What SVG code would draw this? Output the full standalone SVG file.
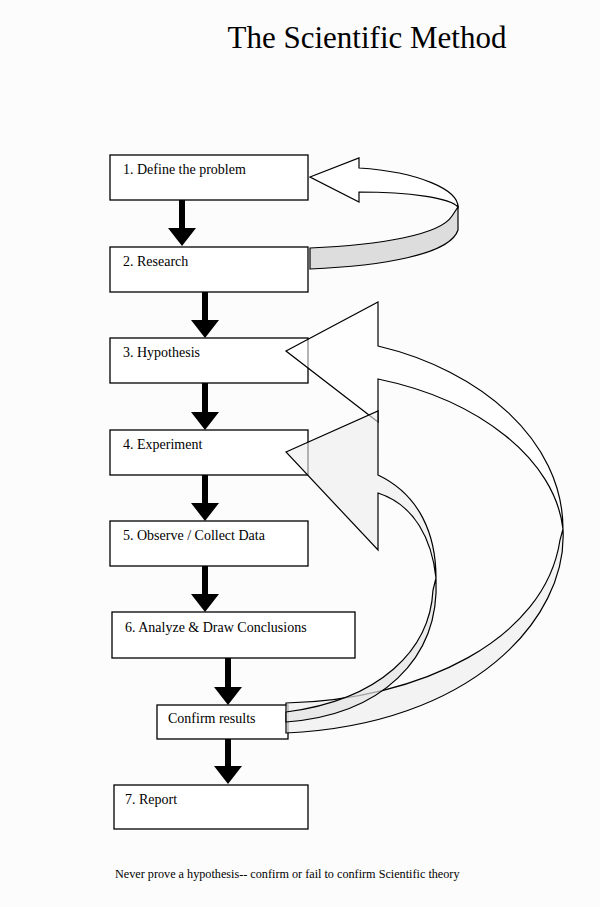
<svg xmlns="http://www.w3.org/2000/svg" width="600" height="907" viewBox="0 0 600 907">
<style>
.box{fill:#fff;stroke:#000;stroke-width:1.3}
.t{font-family:"Liberation Serif",serif;font-size:14px;fill:#000}
.ar{fill:#000}
.rib{stroke:#000;stroke-width:1.2;stroke-linejoin:miter}
</style>
<rect width="600" height="907" fill="#fcfcfc"/>
<text x="367" y="48" text-anchor="middle" font-family="Liberation Serif,serif" font-size="31">The Scientific Method</text>
<g id="n1"><rect class="box" x="110" y="155" width="198" height="45"/><text class="t" x="123" y="174">1. Define the problem</text></g>
<g id="n2"><rect class="box" x="110" y="247" width="198" height="45"/><text class="t" x="123" y="266">2. Research</text></g>
<g id="n3"><rect class="box" x="110" y="338" width="198" height="45"/><text class="t" x="123" y="357">3. Hypothesis</text></g>
<g id="n4"><rect class="box" x="110" y="430" width="198" height="45"/><text class="t" x="123" y="449">4. Experiment</text></g>
<g id="n5"><rect class="box" x="110" y="521" width="198" height="45"/><text class="t" x="123" y="540">5. Observe / Collect Data</text></g>
<g id="n6"><rect class="box" x="112" y="612" width="243" height="46"/><text class="t" x="125" y="632">6. Analyze &amp; Draw Conclusions</text></g>
<g id="n7"><rect class="box" x="157" y="705" width="131" height="34"/><text class="t" x="168" y="723">Confirm results</text></g>
<g id="n8"><rect class="box" x="114" y="785" width="194" height="44"/><text class="t" x="125" y="804">7. Report</text></g>
<g id="connectors">
<path class="ar" d="M179,200h6v28h11l-14,18l-14,-18h11z"/>
<path class="ar" d="M202,292h6v28h11l-14,18l-14,-18h11z"/>
<path class="ar" d="M202,383h6v29h11l-14,18l-14,-18h11z"/>
<path class="ar" d="M202,475h6v28h11l-14,18l-14,-18h11z"/>
<path class="ar" d="M202,566h6v28h11l-14,18l-14,-18h11z"/>
<path class="ar" d="M225,658h6v29h11l-14,18l-14,-18h11z"/>
<path class="ar" d="M225,739h6v27h11l-14,18l-14,-18h11z"/>
<!-- top loop -->
<path class="rib" fill="#ddd" d="M310,248 C380,245 440,235 452,216 L458,207 L458,230 C450,255 380,266 310,269 Z"/>
<path class="rib" fill="#fff" d="M310,177 L359,158 L359,168 C420,172 458,190 458,207 C450,198 410,192 359,192 L359,202 Z"/>
<!-- big outer loop -->
<path class="rib" fill="#f0f0f0" fill-opacity="0.7" d="M286,703 C420,700 545,640 560,540 L563,529 C568,620 470,725 286,733 Z"/>
<path class="rib" fill="#fff" fill-opacity="0.55" d="M286,351 L378,302 L378,346 C480,370 563,440 563,529 C555,460 480,400 378,379 L378,422 Z"/>
<!-- inner loop -->
<path class="rib" fill="#e4e4e4" fill-opacity="0.7" d="M286,712 C380,700 430,650 433,590 L436,578 C440,660 380,715 286,722 Z"/>
<path class="rib" fill="#ececec" fill-opacity="0.6" d="M286,452 L378,411 L378,475 C420,495 436,535 436,578 C432,540 415,505 378,493 L378,550 Z"/>
</g>
<text x="115" y="878" font-family="Liberation Serif,serif" font-size="12.2">Never prove a hypothesis-- confirm or fail to confirm Scientific theory</text>
</svg>
